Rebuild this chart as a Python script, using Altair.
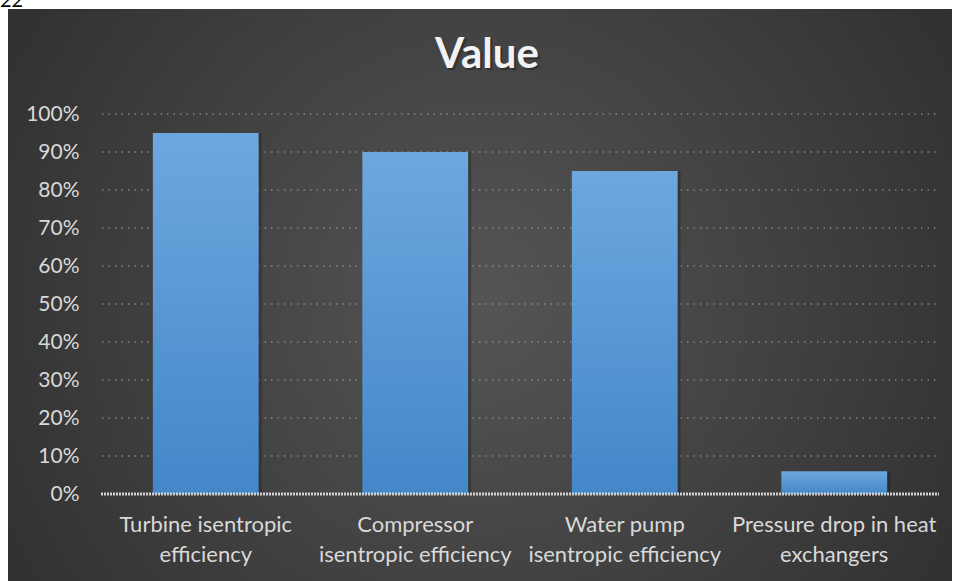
import altair as alt
import pandas as pd

categories = [
    "Turbine isentropic efficiency",
    "Compressor isentropic efficiency",
    "Water pump isentropic efficiency",
    "Pressure drop in heat exchangers",
]
label_lines = [
    "Turbine isentropic|efficiency",
    "Compressor|isentropic efficiency",
    "Water pump|isentropic efficiency",
    "Pressure drop in heat|exchangers",
]
values = [0.95, 0.90, 0.85, 0.06]
y_ticks = [0, 0.1, 0.2, 0.3, 0.4, 0.5, 0.6, 0.7, 0.8, 0.9, 1.0]
grid_ticks = [0.1, 0.2, 0.3, 0.4, 0.5, 0.6, 0.7, 0.8, 0.9, 1.0]

df = pd.DataFrame({"category": label_lines, "value": values})
grid_df = pd.DataFrame({"value": grid_ticks})
base_df = pd.DataFrame({"value": [0.0]})

FONT = "Lato"
LABEL_COLOR = "#d9d9d9"

x_enc = alt.X(
    "category:N",
    sort=label_lines,
    title=None,
    scale=alt.Scale(paddingInner=0.495, paddingOuter=0.2475),
    axis=alt.Axis(
        labelExpr="split(datum.label, '|')",
        labelAngle=0,
        labelFont=FONT,
        labelFontSize=22,
        labelColor=LABEL_COLOR,
        labelLineHeight=30,
        labelPadding=20,
        labelLimit=400,
        ticks=False,
        domain=False,
        grid=False,
        zindex=1,
    ),
)
y_scale = alt.Scale(domain=[0, 1])
y_axis = alt.Axis(
    values=y_ticks,
    format=".0%",
    labelFont=FONT,
    labelFontSize=21,
    labelColor=LABEL_COLOR,
    labelPadding=22,
    ticks=False,
    domain=False,
    grid=False,
    zindex=1,
)
y_enc = alt.Y("value:Q", title=None, scale=y_scale, axis=y_axis)

bg = alt.Chart(base_df).mark_rect(
    color=alt.Gradient(
        gradient="radial",
        x1=0.5, y1=0.5, r1=0.0,
        x2=0.5, y2=0.5, r2=0.75,
        stops=[
            alt.GradientStop(offset=0, color="#555555"),
            alt.GradientStop(offset=1, color="#262626"),
        ],
    )
).encode(
    x=alt.value(-93), x2=alt.value(851), y=alt.value(-105), y2=alt.value(480)
)

grid = alt.Chart(grid_df).mark_rule(
    color="#a6a6a6", strokeDash=[1.5, 5], strokeWidth=1.2
).encode(
    y=y_enc,
    x=alt.value(1),
    x2=alt.value(838),
)

shadow = alt.Chart(df).mark_bar(color="#1a1a1a", opacity=0.35, xOffset=3).encode(
    x=x_enc, y=y_enc
)

bars = alt.Chart(df).mark_bar(
    color=alt.Gradient(
        gradient="linear",
        x1=0, y1=0, x2=0, y2=1,
        stops=[
            alt.GradientStop(offset=0, color="#6ea7de"),
            alt.GradientStop(offset=1, color="#4387c9"),
        ],
    )
).encode(x=x_enc, y=y_enc)

baseline = alt.Chart(base_df).mark_rule(
    color="#d0d0d0", strokeWidth=3, strokeDash=[2, 1]
).encode(
    y=y_enc,
    x=alt.value(0),
    x2=alt.value(838),
)

title_df = pd.DataFrame({"t": ["Value"]})
title_shadow = alt.Chart(title_df).mark_text(
    font=FONT, fontSize=42, fontWeight="bold", color="#1e1e1e", opacity=0.5,
    align="center", baseline="middle",
).encode(text="t:N", x=alt.value(388), y=alt.value(-57))
title = alt.Chart(title_df).mark_text(
    font=FONT, fontSize=42, fontWeight="bold", color="#f2f2f2",
    align="center", baseline="middle",
).encode(text="t:N", x=alt.value(386), y=alt.value(-59))

corner_df = pd.DataFrame({"t": ["22"]})
corner = alt.Chart(corner_df).mark_text(
    font=FONT, fontSize=20, color="#000000", align="left", baseline="alphabetic",
).encode(text="t:N", x=alt.value(-101), y=alt.value(-107))

chart = (
    alt.layer(bg, grid, shadow, bars, baseline, title_shadow, title, corner)
    .properties(
        width=838,
        height=380,
        padding={"left": 101, "top": 114, "right": 16, "bottom": 87},
        autosize=alt.AutoSizeParams(type="none"),
    )
    .configure(background="#ffffff")
    .configure_view(stroke=None)
)

chart.save("out.html", embed_options={"renderer": "svg", "actions": False})
